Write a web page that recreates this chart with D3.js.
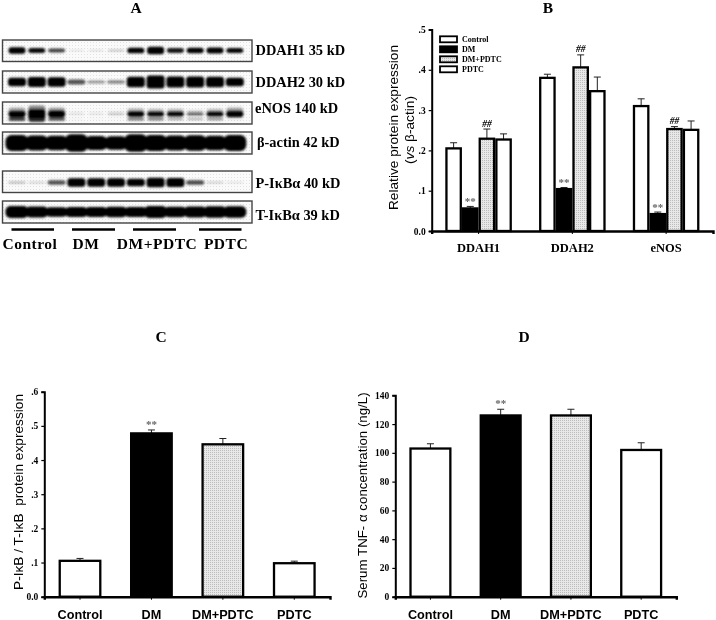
<!DOCTYPE html>
<html><head><meta charset="utf-8">
<script src="https://cdn.jsdelivr.net/npm/d3@7/dist/d3.min.js"></script>
<style>
html,body{margin:0;padding:0;background:#fff}
svg{display:block;filter:blur(.35px)}
text{font-family:"Liberation Serif",serif;fill:#000}
.sans{font-family:"Liberation Sans",sans-serif}
</style></head><body>
<script>
// ---------- data ----------
const treatments = ["Control","DM","DM+PDTC","PDTC"];
const proteins = ["DDAH1","DDAH2","eNOS"];
const bControl = [0.205,0.380,0.310];
const bDM      = [0.056,0.104,0.042];
const bDMPDTC  = [0.229,0.406,0.253];
const bPDTC    = [0.227,0.347,0.251];
const bControlErr = [0.014,0.009,0.018];
const bDMErr      = [0.005,0.004,0.005];
const bDMPDTCErr  = [0.024,0.031,0.006];
const bPDTCErr    = [0.014,0.035,0.022];
const bTicks = [0,0.1,0.2,0.3,0.4,0.5];
const bMarksStar = [1,1,1];      // ** above DM
const bMarksHash = [1,1,1];      // ## above DM+PDTC

const cValues = [0.105,0.478,0.446,0.098];
const cErrors = [0.007,0.010,0.017,0.006];
const cTicks  = [0,0.1,0.2,0.3,0.4,0.5,0.6];

const dValues = [103,126,126,102];
const dErrors = [3.3,4.3,4.3,5];
const dTicks  = [0,20,40,60,80,100,120,140];

const blotLabels = ["DDAH1 35 kD","DDAH2 30 kD","eNOS 140 kD","β-actin 42 kD","P-IκBα 40 kD","T-IκBα 39 kD"];
const blotDDAH1 = [.95,.72,.55,.12,.14,.22,.82,1.05,.68,.8,.88,.72];
const blotDDAH2 = [.85,1,.95,.5,.3,.34,1.05,1.3,1.1,1.1,1.05,.85];
const blotENOSupper = [.95,1.4,1,.16,.14,.24,.8,.72,.72,.45,.72,.95];
const blotENOSlower = [.7,1,.62,.1,.07,.08,.5,.48,.36,.3,.42,.14];
const blotActin = [1,.95,.9,1.1,.88,.85,1.1,1,.95,.98,.92,1];
const blotPIkB  = [.22,.16,.5,.95,.95,.92,.82,1.05,.98,.52,.18,.12];
const blotTIkB  = [1,.9,.78,.85,.82,.88,.85,1,.88,.9,.95,.95];

// ---------- page ----------
const W = 716, H = 620;
const svg = d3.select("body").append("svg").attr("width",W).attr("height",H);
const defs = svg.append("defs");

const dots = defs.append("pattern").attr("id","dots").attr("width",2).attr("height",2).attr("patternUnits","userSpaceOnUse");
dots.append("rect").attr("width",2).attr("height",2).attr("fill","#e8e8e8");
dots.append("rect").attr("width",1).attr("height",1).attr("fill","#bcbcbc");

const haze = defs.append("pattern").attr("id","haze").attr("width",3).attr("height",3).attr("patternUnits","userSpaceOnUse");
haze.append("rect").attr("width",3).attr("height",3).attr("fill","#fafafa");
haze.append("rect").attr("width",1).attr("height",1).attr("fill","#e2e2e2");

defs.append("filter").attr("id","soft").attr("x","-20%").attr("y","-60%").attr("width","140%").attr("height","220%")
  .append("feGaussianBlur").attr("stdDeviation",0.9);

const fillFor = {Control:"#fff",DM:"#000","DM+PDTC":"url(#dots)",PDTC:"#fff"};

function title(t,x,y){
  svg.append("text").attr("x",x).attr("y",y).attr("text-anchor","middle")
    .attr("font-weight","bold").attr("font-size",15.5).text(t);
}
title("A",136,13); title("B",548,13); title("C",161,342); title("D",524,342);

// ---------- panel A : blots ----------
const lane = d3.scalePoint().domain(d3.range(12)).range([17,234.8]);
const density = d3.scaleLinear().domain([0,0.75]).range([0,1]).clamp(true);
function blot(top,bottom,label,labelX,labelY,layers){
  svg.append("rect").attr("x",2.5).attr("y",top).attr("width",249.5).attr("height",bottom-top)
    .attr("fill","url(#haze)").attr("stroke","#444").attr("stroke-width",1.4);
  const g = svg.append("g").attr("filter","url(#soft)");
  layers.forEach(l=>{
    g.selectAll(null).data(l.values).join("rect")
      .attr("x",(d,i)=>lane(i)-l.w/2)
      .attr("width",l.w)
      .attr("y",d=>top+l.dy-l.h*d/2)
      .attr("height",d=>l.h*d)
      .attr("rx",l.r||3)
      .attr("fill",l.color||"#000")
      .attr("opacity",d=>density(d));
  });
  svg.append("text").attr("x",labelX).attr("y",labelY).attr("font-weight","bold").attr("font-size",14.4).text(label);
}
blot(40,61.5,blotLabels[0],255.5,54.5,[{values:blotDDAH1,w:17,h:7,dy:10.5}]);
blot(71,93,blotLabels[1],255.5,87,[{values:blotDDAH2,w:18,h:10,dy:11}]);
blot(102,124,blotLabels[2],255,113,[
  {values:blotENOSupper.map(v=>v*.42),w:17,h:22,dy:10,color:"#666"},
  {values:blotENOSlower,w:17,h:6,dy:17,color:"#333"},
  {values:blotENOSupper,w:17,h:7,dy:12}]);
blot(132,154,blotLabels[3],257,147,[{values:blotActin,w:23,h:16,dy:11,r:6}]);
blot(171,192.5,blotLabels[4],255.5,188,[{values:blotPIkB,w:18,h:9,dy:11.5}]);
blot(201,223,blotLabels[5],255.5,220,[{values:blotTIkB,w:23,h:12,dy:11,r:5}]);

const groupSpans = [[11.5,54],[72,115],[133,176],[199,241.5]];
const groupCenters = [30,86,157,226];
treatments.forEach((t,i)=>{
  svg.append("line").attr("x1",groupSpans[i][0]).attr("x2",groupSpans[i][1]).attr("y1",229.5).attr("y2",229.5)
    .attr("stroke","#000").attr("stroke-width",2.5);
  svg.append("text").attr("x",groupCenters[i]).attr("y",249).attr("text-anchor","middle")
    .attr("font-weight","bold").attr("font-size",15.5).attr("letter-spacing",.5).text(t);
});

// ---------- shared axis ----------
function yAxis(y,x0,x1,ticks,fmt){
  const g = svg.append("g").attr("transform",`translate(${x0},0)`)
    .call(d3.axisLeft(y).tickValues(ticks).tickSize(3).tickPadding(3).tickFormat(fmt));
  g.select(".domain").attr("stroke-width",2).attr("stroke","#000");
  g.selectAll(".tick line").attr("stroke-width",1.2);
  g.selectAll(".tick text").attr("font-family","Liberation Serif").attr("font-weight","bold").attr("font-size",9.5);
  return g;
}
function xAxis(x,y0,labelClass,labelSize,pad){
  const g = svg.append("g").attr("transform",`translate(0,${y0})`)
    .call(d3.axisBottom(x).tickSize(3).tickPadding(pad));
  g.select(".domain").attr("stroke-width",2.4).attr("stroke","#000");
  g.selectAll(".tick line").attr("stroke-width",1);
  g.selectAll(".tick text").attr("class",labelClass).attr("font-weight","bold").attr("font-size",labelSize)
    .attr("font-family",labelClass==="sans"?"Liberation Sans":"Liberation Serif").attr("fill","#111");
  return g;
}
function bars(g,rows,y,sw){
  const errs = g.append("g");
  errs.selectAll("line.v").data(rows).join("line")
    .attr("x1",d=>d.x+d.w/2).attr("x2",d=>d.x+d.w/2)
    .attr("y1",d=>y(d.v)).attr("y2",d=>y(d.v+d.e))
    .attr("stroke","#222").attr("stroke-width",1);
  errs.selectAll("line.c").data(rows).join("line")
    .attr("x1",d=>d.x+d.w/2-3.5).attr("x2",d=>d.x+d.w/2+3.5)
    .attr("y1",d=>y(d.v+d.e)).attr("y2",d=>y(d.v+d.e))
    .attr("stroke","#222").attr("stroke-width",1);
  g.append("g").selectAll("rect").data(rows).join("rect")
    .attr("x",d=>d.x+sw/2).attr("width",d=>d.w-sw)
    .attr("y",d=>y(d.v)).attr("height",d=>y(0)-y(d.v))
    .attr("fill",d=>fillFor[d.t]).attr("stroke","#000").attr("stroke-width",sw);
}
function stars(x,y,size){
  svg.append("text").attr("x",x).attr("y",y).attr("text-anchor","middle")
    .attr("font-size",size||11).attr("font-weight","bold").attr("style","fill:#666").text("**");
}

// ---------- panel B ----------
{
  const x0=431.7,x1=713,y0=231,yT=29.5;
  const y = d3.scaleLinear().domain([0,0.5]).range([y0,yT]);
  const x = d3.scaleBand().domain(proteins).range([x0,x1]).paddingInner(.29).paddingOuter(.145);
  const xs = d3.scaleBand().domain(treatments).range([0,x.bandwidth()]);
  const series = [bControl,bDM,bDMPDTC,bPDTC], errs=[bControlErr,bDMErr,bDMPDTCErr,bPDTCErr];
  const rows=[];
  proteins.forEach((p,i)=>treatments.forEach((t,j)=>rows.push({x:x(p)+xs(t),w:xs.bandwidth(),v:series[j][i],e:errs[j][i],t})));
  bars(svg.append("g"),rows,y,2.3);
  yAxis(y,x0,x1,bTicks,d=>d===0?"0.0":d3.format(".1f")(d).slice(1));
  xAxis(x,y0,"serif",12.5,9);
  proteins.forEach((p,i)=>{
    if(bMarksStar[i]) stars(x(p)+xs("DM")+xs.bandwidth()/2,y(bDM[i]+bDMErr[i])-1,11);
    if(bMarksHash[i]) svg.append("text").attr("x",x(p)+xs("DM+PDTC")+xs.bandwidth()/2)
      .attr("y",y(bDMPDTC[i]+bDMPDTCErr[i])-2.5).attr("text-anchor","middle")
      .attr("font-size",9.5).attr("font-weight","bold").attr("font-style","italic").text("##");
  });
  const lg = svg.append("g");
  treatments.forEach((t,i)=>{
    const ly=39.5+i*10;
    lg.append("rect").attr("x",440).attr("y",ly-3.2).attr("width",17).attr("height",6)
      .attr("fill",fillFor[t]).attr("stroke","#000").attr("stroke-width",1.8);
    lg.append("text").attr("x",462).attr("y",ly+2.7).attr("font-size",8).attr("font-weight","bold").text(t);
  });
  const t = svg.append("text").attr("class","sans").attr("transform","translate(398,127.5) rotate(-90)")
    .attr("text-anchor","middle").attr("font-size",13.7).text("Relative protein expression");
  const t2 = svg.append("text").attr("class","sans").attr("transform","translate(414,130) rotate(-90)")
    .attr("text-anchor","middle").attr("font-size",13.7);
  t2.append("tspan").text("(");
  t2.append("tspan").attr("font-style","italic").text("vs");
  t2.append("tspan").text(" β-actin)");
}

// ---------- panel C ----------
{
  const x0=44.3,x1=330,y0=596.7,yT=391.7;
  const y = d3.scaleLinear().domain([0,0.6]).range([y0,yT]);
  const x = d3.scaleBand().domain(treatments).range([x0,x1]).paddingInner(.4).paddingOuter(.2);
  bars(svg.append("g"),treatments.map((t,i)=>({x:x(t),w:x.bandwidth(),v:cValues[i],e:cErrors[i],t})),y,2.3);
  yAxis(y,x0,x1,cTicks,d=>d===0?"0.0":d3.format(".1f")(d).slice(1));
  xAxis(x,y0,"sans",12.7,10);
  stars(x("DM")+x.bandwidth()/2,y(cValues[1]+cErrors[1])-2,11);
  svg.append("text").attr("class","sans").attr("transform","translate(23,492) rotate(-90)")
    .attr("xml:space","preserve").style("white-space","pre")
    .attr("text-anchor","middle").attr("font-size",13.7).text("P-IκB / T-IκB  protein expression");
}

// ---------- panel D ----------
{
  const x0=395.3,x1=676.3,y0=596.7,yT=395.3;
  const y = d3.scaleLinear().domain([0,140]).range([y0,yT]);
  const x = d3.scaleBand().domain(treatments).range([x0,x1]).paddingInner(.4).paddingOuter(.2);
  bars(svg.append("g"),treatments.map((t,i)=>({x:x(t),w:x.bandwidth(),v:dValues[i],e:dErrors[i],t})),y,2.3);
  yAxis(y,x0,x1,dTicks,d3.format("d"));
  xAxis(x,y0,"sans",12.7,10);
  stars(x("DM")+x.bandwidth()/2,y(dValues[1]+dErrors[1])-2,11);
  svg.append("text").attr("class","sans").attr("transform","translate(367,495.5) rotate(-90)")
    .attr("text-anchor","middle").attr("font-size",13.3).text("Serum TNF- α concentration (ng/L)");
}
</script>
</body></html>
